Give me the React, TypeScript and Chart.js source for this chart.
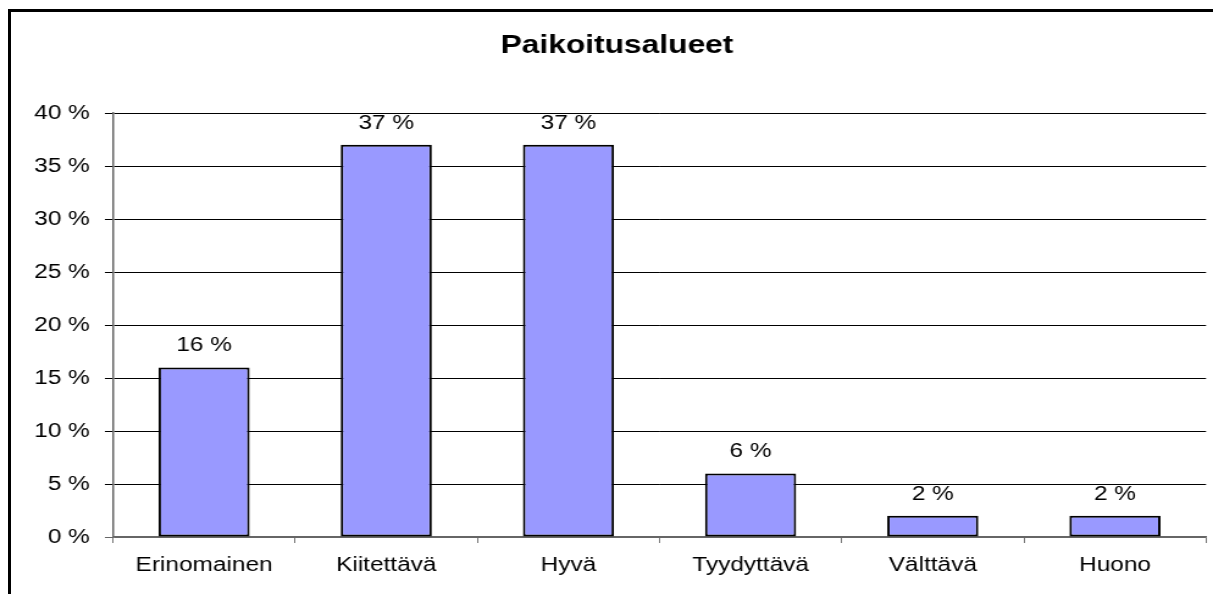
import React, { useEffect, useRef } from "react";
import { Chart, registerables } from "chart.js";

Chart.register(...registerables);

const chartTitle = "Paikoitusalueet";
const categories = ["Erinomainen", "Kiitettävä", "Hyvä", "Tyydyttävä", "Välttävä", "Huono"];
const values = [16, 37, 37, 6, 2, 2];
const yMin = 0;
const yMax = 40;
const yStep = 5;

const FONT = '"Liberation Sans", Arial, sans-serif';
const PAGE_W = 1213;
const PAGE_H = 594;
const CANVAS_W = 994;
const STRETCH = PAGE_W / CANVAS_W;

const overlayPlugin = {
  id: "overlayText",
  afterDatasetsDraw(chart: any) {
    const ctx = chart.ctx;
    const meta = chart.getDatasetMeta(0);
    ctx.save();
    ctx.fillStyle = "#000";
    ctx.textAlign = "center";
    ctx.textBaseline = "alphabetic";
    ctx.font = `20px ${FONT}`;
    meta.data.forEach((bar: any, i: number) => {
      ctx.fillText(`${values[i]} %`, bar.x, bar.y - 16);
    });
    ctx.font = `bold 26px ${FONT}`;
    ctx.fillText(chartTitle, 617 / STRETCH, 53);
    ctx.restore();
  },
};

export default function App() {
  const canvasRef = useRef<HTMLCanvasElement | null>(null);

  useEffect(() => {
    if (!canvasRef.current) return;
    const chart = new Chart(canvasRef.current, {
      type: "bar",
      data: {
        labels: categories,
        datasets: [
          {
            data: values,
            backgroundColor: "#9999FF",
            borderColor: "#000000",
            borderWidth: 2,
            borderSkipped: false,
            barPercentage: 0.5,
            categoryPercentage: 1,
          },
        ],
      },
      options: {
        responsive: false,
        animation: false,
        devicePixelRatio: 1,
        layout: { padding: { top: 113, right: 5.7, bottom: 0, left: 0 } },
        plugins: {
          legend: { display: false },
          tooltip: { enabled: false },
          title: { display: false },
        },
        scales: {
          x: {
            offset: true,
            grid: {
              display: true,
              offset: true,
              drawOnChartArea: false,
              drawTicks: true,
              tickLength: 6,
              color: "#777777",
              lineWidth: 1,
            },
            border: { display: true, color: "#666666", width: 1.5 },
            ticks: {
              color: "#000",
              font: { family: FONT, size: 20 },
              padding: 10.7,
              maxRotation: 0,
              autoSkip: false,
            },
            afterFit: (scale: any) => {
              scale.height = 57;
            },
          },
          y: {
            min: yMin,
            max: yMax,
            grid: {
              color: (c: any) => (c.tick && c.tick.value === 0 ? "#666666" : "#000000"),
              lineWidth: 1,
              drawTicks: true,
              tickLength: 6.6,
            },
            border: { display: true, color: "#666666", width: 1.5 },
            ticks: {
              stepSize: yStep,
              color: "#000",
              font: { family: FONT, size: 20 },
              padding: 12.4,
              callback: (v: any) => `${v} %`,
            },
            afterFit: (scale: any) => {
              scale.width = 92.6;
            },
          },
        },
      },
      plugins: [overlayPlugin],
    });
    return () => chart.destroy();
  }, []);

  return (
    <div
      style={{
        position: "fixed",
        left: 0,
        top: 0,
        width: PAGE_W,
        height: PAGE_H,
        overflow: "hidden",
        background: "#fff",
      }}
    >
      <div
        style={{
          position: "absolute",
          left: 0,
          top: 0,
          width: CANVAS_W,
          height: PAGE_H,
          transform: `scaleX(${STRETCH})`,
          transformOrigin: "0 0",
        }}
      >
        <canvas
          ref={canvasRef}
          width={CANVAS_W}
          height={PAGE_H}
          style={{ display: "block", width: CANVAS_W, height: PAGE_H }}
        />
      </div>
      <div
        style={{
          position: "absolute",
          left: 8,
          top: 9,
          width: 1400,
          height: 800,
          border: "3px solid #000",
          boxSizing: "border-box",
        }}
      />
    </div>
  );
}
